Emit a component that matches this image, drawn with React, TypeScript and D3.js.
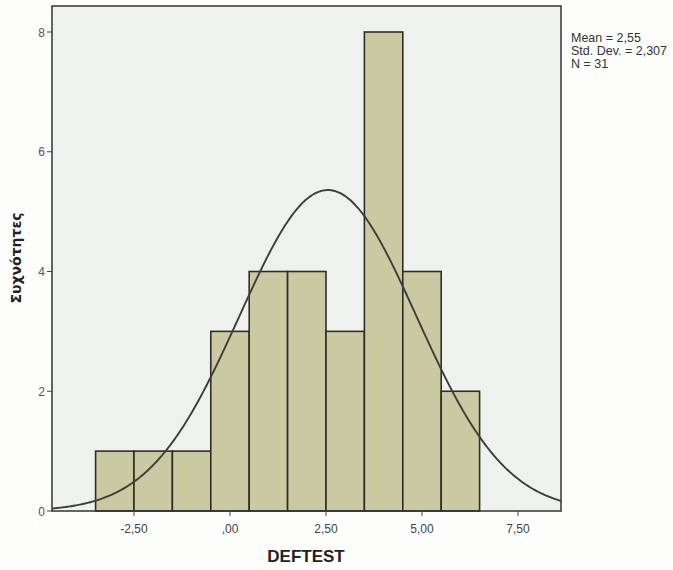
import React, { useEffect, useRef } from "react";
import * as d3 from "d3";

const binStarts = [-3.5, -2.5, -1.5, -0.5, 0.5, 1.5, 2.5, 3.5, 4.5, 5.5];
const binWidth = 1;
const counts = [1, 1, 1, 3, 4, 4, 3, 8, 4, 2];
const xTicks = [-2.5, 0, 2.5, 5, 7.5];
const xTickLabels = ["-2,50", ",00", "2,50", "5,00", "7,50"];
const yTicks = [0, 2, 4, 6, 8];
const statsLines = ["Mean = 2,55", "Std. Dev. = 2,307", "N = 31"];
const mean = 2.55;
const sd = 2.307;
const n = 31;

export default function App() {
  const ref = useRef<SVGSVGElement>(null);
  useEffect(() => {
    const svg = d3.select(ref.current);
    svg.selectAll("*").remove();
    const left = 52, right = 561, top = 6, bottom = 511;
    const x = d3.scaleLinear().domain([-4.635, 8.62]).range([left, right]);
    const y = d3.scaleLinear().domain([0, 8]).range([bottom, 32]);

    svg.append("rect").attr("width", 673).attr("height", 570).attr("fill", "#fdfdfc");
    svg.append("rect").attr("x", left).attr("y", top).attr("width", right - left).attr("height", bottom - top)
      .attr("fill", "#eff1ee");

    svg.append("g").selectAll("rect").data(binStarts).join("rect")
      .attr("x", (d) => x(d))
      .attr("width", (d) => x(d + binWidth) - x(d))
      .attr("y", (_, i) => y(counts[i]))
      .attr("height", (_, i) => y(0) - y(counts[i]))
      .attr("fill", "#cbc9a1")
      .attr("stroke", "#2e2e28")
      .attr("stroke-width", 1.6);

    const pts = d3.range(400).map((i) => {
      const xv = -4.635 + (i / 399) * (8.62 + 4.635);
      const yv = (n * binWidth) / (sd * Math.sqrt(2 * Math.PI)) * Math.exp(-0.5 * ((xv - mean) / sd) ** 2);
      return [xv, yv] as [number, number];
    });
    svg.append("path").datum(pts)
      .attr("d", d3.line<[number, number]>().x((d) => x(d[0])).y((d) => y(d[1])).curve(d3.curveBasis))
      .attr("fill", "none").attr("stroke", "#3d3d3d").attr("stroke-width", 1.9);

    svg.append("rect").attr("x", left).attr("y", top).attr("width", right - left).attr("height", bottom - top)
      .attr("fill", "none").attr("stroke", "#333").attr("stroke-width", 1.5);

    const font = "'Liberation Sans', Arial, sans-serif";
    const xg = svg.append("g");
    xTicks.forEach((t, i) => {
      xg.append("line").attr("x1", x(t)).attr("x2", x(t)).attr("y1", bottom).attr("y2", bottom + 5)
        .attr("stroke", "#444").attr("stroke-width", 1);
      xg.append("text").attr("x", x(t)).attr("y", bottom + 22).attr("text-anchor", "middle")
        .attr("font-family", font).attr("font-size", 12).attr("fill", "#444").text(xTickLabels[i]);
    });
    const yg = svg.append("g");
    yTicks.forEach((t) => {
      yg.append("line").attr("x1", left - 5).attr("x2", left).attr("y1", y(t)).attr("y2", y(t))
        .attr("stroke", "#444").attr("stroke-width", 1);
      yg.append("text").attr("x", left - 7).attr("y", y(t) + 4.5).attr("text-anchor", "end")
        .attr("font-family", font).attr("font-size", 12).attr("fill", "#555").text(String(t));
    });

    svg.append("text").attr("x", 306).attr("y", 562).attr("text-anchor", "middle")
      .attr("font-family", font).attr("font-size", 17).attr("font-weight", "bold").attr("fill", "#222").text("DEFTEST");
    svg.append("text").attr("transform", `translate(21,258) rotate(-90)`).attr("text-anchor", "middle")
      .attr("font-family", "'DejaVu Sans', sans-serif").attr("font-size", 14).attr("font-weight", "bold").attr("fill", "#222")
      .text("Συχνότητες");

    statsLines.forEach((s, i) => {
      svg.append("text").attr("x", 571).attr("y", 41.5 + i * 13)
        .attr("font-family", font).attr("font-size", 12.5).attr("fill", "#333").text(s);
    });
  }, []);
  return <svg ref={ref} width={673} height={570} style={{ position: "absolute", left: 0, top: 0 }} />;
}
